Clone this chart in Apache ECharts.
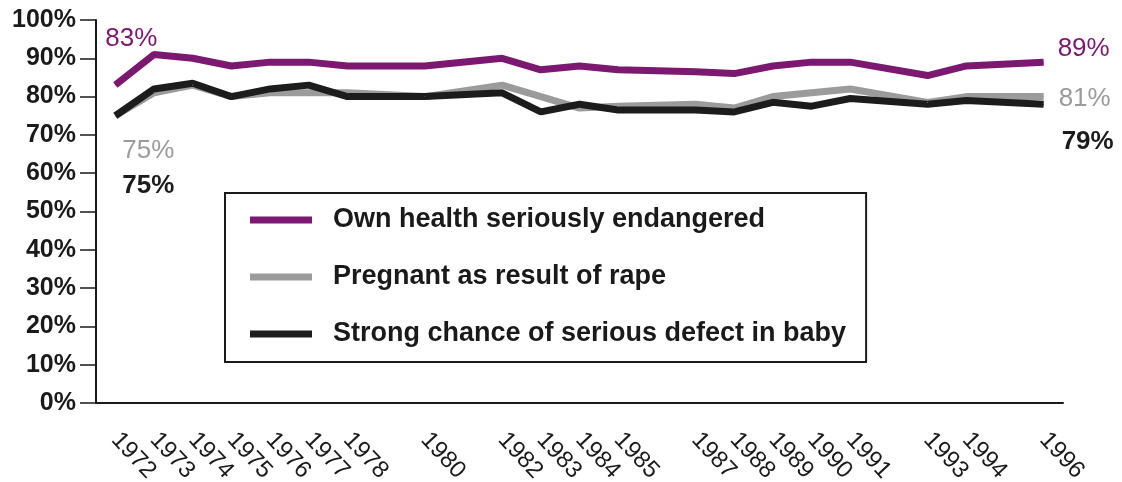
<!DOCTYPE html>
<html>
<head>
<meta charset="utf-8">
<title>Abortion approval by circumstance, 1972-1996</title>
<script src="https://cdn.jsdelivr.net/npm/echarts@6/dist/echarts.min.js"></script>
<style>
  html, body { margin: 0; padding: 0; background: #fff; }
  #chart { width: 1122px; height: 482px; }
</style>
</head>
<body>
<div id="chart"></div>
<script>
// survey years (no survey in 1979, 1981, 1986, 1992, 1995)
const years = ['1972', '1973', '1974', '1975', '1976', '1977', '1978', '1979', '1980', '1981',
  '1982', '1983', '1984', '1985', '1986', '1987', '1988', '1989', '1990', '1991',
  '1992', '1993', '1994', '1995', '1996']
const ownHealth = [83, 91, 90, 88, 89, 89, 88, null, 88, null,
  90, 87, 88, 87, null, 86.5, 86, 88, 89, 89,
  null, 85.5, 88, null, 89]
const rape = [75, 81, 83, 80, 81, 81, 81, null, 80, null,
  83, 80, 77, 77.5, null, 78, 77, 80, 81, 82,
  null, 78.5, 80, null, 80]
const defect = [75, 82, 83.5, 80, 82, 83, 80, null, 80, null,
  81, 76, 78, 76.5, null, 76.5, 76, 78.5, 77.5, 79.5,
  null, 78, 79, null, 78]
const seriesNames = ['Own health seriously endangered', 'Pregnant as result of rape', 'Strong chance of serious defect in baby']
const startLabels = ['83%', '75%', '75%']
const endLabels = ['89%', '81%', '79%']

const colors = ['#7b1870', '#9b9b9b', '#1c1c1c']
const startOffsets = [[16, -46], [33, 35], [33, 70]]
const endOffsets = [[40, -13], [41, 2], [44, 38]]
const font = '"Liberation Sans", Arial, Helvetica, sans-serif'

function buildData (values, i) {
  const last = values.length - 1
  return values.map(function (v, idx) {
    if (idx !== 0 && idx !== last) return v
    return {
      value: v,
      label: {
        show: true,
        position: 'inside',
        offset: idx === 0 ? startOffsets[i] : endOffsets[i],
        formatter: idx === 0 ? startLabels[i] : endLabels[i],
        color: colors[i],
        fontSize: 26,
        fontWeight: i === 2 ? 'bold' : 'normal',
        fontFamily: font
      }
    }
  })
}

const chart = echarts.init(document.getElementById('chart'))
chart.setOption({
  backgroundColor: '#fff',
  animation: false,
  // labels run off the bottom edge in the original, so don't let the grid shrink
  grid: { left: 96, right: 59, top: 20, bottom: 79, outerBoundsMode: 'none' },
  legend: {
    orient: 'vertical',
    left: 225,
    top: 193,
    padding: [12, 20, 13, 25],
    borderColor: '#1a1a1a',
    borderWidth: 2,
    itemWidth: 62,
    itemHeight: 7,
    itemGap: 27,
    icon: 'rect',
    textStyle: {
      color: '#1a1a1a',
      fontSize: 27,
      fontWeight: 'bold',
      fontFamily: font,
      lineHeight: 30,
      padding: [0, 0, 0, 16]
    },
    data: seriesNames
  },
  xAxis: {
    type: 'category',
    data: years,
    boundaryGap: true,
    axisLine: { lineStyle: { color: '#1a1a1a', width: 2 } },
    axisTick: { interval: 0, length: 16, lineStyle: { color: '#1a1a1a', width: 1.5 } },
    axisLabel: {
      interval: function (idx) { return ownHealth[idx] !== null },
      rotate: -47,
      margin: 33,
      color: '#1a1a1a',
      fontSize: 24,
      fontFamily: font
    }
  },
  yAxis: {
    type: 'value',
    min: 0,
    max: 100,
    interval: 10,
    splitLine: { show: false },
    axisLine: { show: true, lineStyle: { color: '#1a1a1a', width: 2 } },
    axisTick: { show: true, length: 16, lineStyle: { color: '#1a1a1a', width: 1.5 } },
    axisLabel: {
      formatter: '{value}%',
      margin: 20,
      color: '#1a1a1a',
      fontSize: 25,
      fontWeight: 'bold',
      fontFamily: font
    }
  },
  series: [ownHealth, rape, defect].map(function (values, i) {
    return {
      name: seriesNames[i],
      type: 'line',
      data: buildData(values, i),
      connectNulls: true,
      symbol: 'circle',
      symbolSize: 1,
      showSymbol: true,
      color: colors[i],
      lineStyle: { color: colors[i], width: 7 },
      itemStyle: { color: colors[i] }
    }
  })
})
</script>
</body>
</html>
